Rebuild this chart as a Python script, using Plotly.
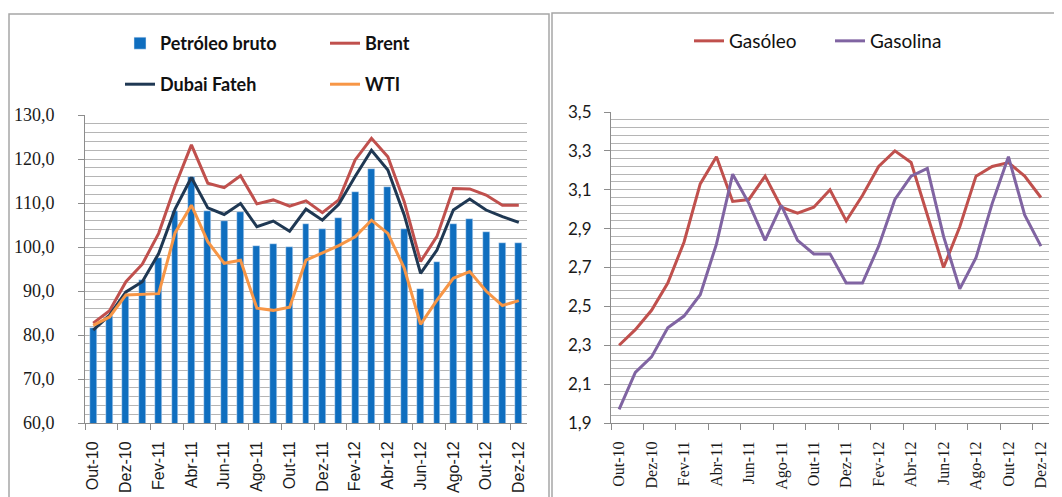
import plotly.graph_objects as go

months = ["Out-10", "Nov-10", "Dez-10", "Jan-11", "Fev-11", "Mar-11", "Abr-11", "Mai-11",
          "Jun-11", "Jul-11", "Ago-11", "Set-11", "Out-11", "Nov-11", "Dez-11", "Jan-12",
          "Fev-12", "Mar-12", "Abr-12", "Mai-12", "Jun-12", "Jul-12", "Ago-12", "Set-12",
          "Out-12", "Nov-12", "Dez-12"]

petroleo_bruto = [81.7, 84.3, 88.8, 92.5, 97.6, 108.2, 116.0, 108.2, 105.8, 107.9, 100.3, 100.6,
                  99.9, 105.2, 104.0, 106.7, 112.6, 117.7, 113.7, 104.0, 90.5, 96.7, 105.2,
                  106.3, 103.3, 100.8, 100.8]
brent = [82.7, 85.5, 92.1, 96.1, 103.1, 113.8, 123.2, 114.5, 113.5, 116.2, 109.8, 110.7, 109.3,
         110.5, 107.8, 110.7, 119.8, 124.7, 120.5, 110.3, 96.7, 102.4, 113.3, 113.2, 111.8,
         109.5, 109.5]
dubai_fateh = [81.1, 84.5, 89.8, 92.1, 98.5, 108.6, 115.8, 108.9, 107.4, 109.9, 104.6, 105.9,
               103.6, 108.6, 106.1, 109.7, 116.0, 122.0, 117.5, 107.3, 94.0, 99.3, 108.4, 110.9,
               108.4, 106.9, 105.6]
wti = [82.2, 84.1, 89.1, 89.3, 89.4, 103.2, 109.5, 101.2, 96.3, 97.0, 86.1, 85.6, 86.3, 97.0,
       98.6, 100.3, 102.3, 106.1, 103.1, 95.2, 82.4, 87.9, 92.9, 94.4, 90.0, 86.7, 87.8]

gasoleo = [2.30, 2.38, 2.48, 2.62, 2.83, 3.13, 3.27, 3.04, 3.05, 3.17, 3.01, 2.98, 3.01, 3.10,
           2.94, 3.07, 3.22, 3.30, 3.24, 2.97, 2.70, 2.91, 3.17, 3.22, 3.24, 3.17, 3.06]
gasolina = [1.97, 2.16, 2.24, 2.39, 2.45, 2.56, 2.82, 3.18, 3.03, 2.84, 3.02, 2.84, 2.77, 2.77,
            2.62, 2.62, 2.81, 3.05, 3.17, 3.21, 2.86, 2.59, 2.75, 3.03, 3.27, 2.97, 2.81]

x = list(range(len(months)))
label_vals = x[::2]
label_text = months[::2]
boundary_ticks = [v - 0.5 for v in label_vals]

# page offset (default body margin) compensation
OFF = 8
W, H = 1062 - OFF, 497 - OFF
def px(v):
    return (v - OFF) / W
def py(v):
    return 1 - (v - OFF) / H

C_BAR = "#0F6EBF"
C_BRENT = "#C0504D"
C_DUBAI = "#1F3853"
C_WTI = "#F79646"
C_GASOLINA = "#8064A2"
GRID = "#B5B5B5"
AXIS = "#8C8C8C"

fig = go.Figure()
fig.add_trace(go.Bar(x=x, y=petroleo_bruto, name="Petróleo bruto", marker_color=C_BAR,
                     width=0.42, xaxis="x", yaxis="y", legend="legend"))
fig.add_trace(go.Scatter(x=x, y=brent, name="Brent", mode="lines",
                         line=dict(color=C_BRENT, width=3), xaxis="x", yaxis="y", legend="legend"))
fig.add_trace(go.Scatter(x=x, y=dubai_fateh, name="Dubai Fateh", mode="lines",
                         line=dict(color=C_DUBAI, width=3), xaxis="x", yaxis="y", legend="legend2"))
fig.add_trace(go.Scatter(x=x, y=wti, name="WTI", mode="lines",
                         line=dict(color=C_WTI, width=3), xaxis="x", yaxis="y", legend="legend2"))
fig.add_trace(go.Scatter(x=x, y=gasoleo, name="Gasóleo", mode="lines",
                         line=dict(color=C_BRENT, width=3), xaxis="x2", yaxis="y2", legend="legend3"))
fig.add_trace(go.Scatter(x=x, y=gasolina, name="Gasolina", mode="lines",
                         line=dict(color=C_GASOLINA, width=3), xaxis="x2", yaxis="y2", legend="legend3"))

xcommon = dict(range=[-0.5, len(months) - 0.5], tickmode="array", tickvals=label_vals,
               ticktext=label_text, tickangle=-90, ticks="", showgrid=False, zeroline=False,
               showline=True, linecolor=AXIS, linewidth=1, automargin=False,
               ticklabelstandoff=11,
               minor=dict(tickmode="array", tickvals=boundary_ticks, ticks="outside",
                          ticklen=6, tickcolor=AXIS, showgrid=False))

fig.update_layout(
    width=W, height=H, margin=dict(l=0, r=0, t=0, b=0, autoexpand=False),
    paper_bgcolor="white", plot_bgcolor="white",
    separators=", ",
    bargap=0,
    xaxis=dict(domain=[px(85), px(527)], anchor="y",
               tickfont=dict(family="Liberation Sans", size=16, color="#1a1a1a"), **xcommon),
    yaxis=dict(domain=[py(423), py(115)], anchor="x", range=[60, 130], dtick=10,
               tickformat=".1f", showgrid=True, gridcolor=GRID, gridwidth=1,
               showline=True, linecolor=AXIS, ticks="outside", ticklen=6, tickcolor=AXIS,
               zeroline=False, ticklabelstandoff=20, automargin=False,
               tickfont=dict(family="Liberation Serif", size=18, color="#1a1a1a"),
               minor=dict(dtick=2, showgrid=True, gridcolor=GRID, gridwidth=1)),
    xaxis2=dict(domain=[px(611), px(1049)], anchor="y2",
                tickfont=dict(family="Liberation Serif", size=16, color="#1a1a1a"), **xcommon),
    yaxis2=dict(domain=[py(423), py(112)], anchor="x2", range=[1.9, 3.5], tick0=1.9, dtick=0.2,
                tickformat=".1f", showgrid=True, gridcolor=GRID, gridwidth=1,
                showline=True, linecolor=AXIS, ticks="outside", ticklen=6, tickcolor=AXIS,
                zeroline=False, ticklabelstandoff=9, automargin=False,
                tickfont=dict(family="Lato", size=17, color="#1a1a1a"),
                minor=dict(tick0=1.9, dtick=0.04, showgrid=True, gridcolor=GRID, gridwidth=1)),
    legend=dict(orientation="h", x=px(120), y=py(25), xanchor="left", yanchor="top",
                entrywidth=160, entrywidthmode="pixels", bgcolor="rgba(0,0,0,0)",
                font=dict(family="Lato", size=18, color="#111111", weight="bold"),
                traceorder="normal"),
    legend2=dict(orientation="h", x=px(120), y=py(66), xanchor="left", yanchor="top",
                 entrywidth=160, entrywidthmode="pixels", bgcolor="rgba(0,0,0,0)",
                 font=dict(family="Lato", size=18, color="#111111", weight="bold"),
                 traceorder="normal"),
    legend3=dict(orientation="h", x=px(689), y=py(22), xanchor="left", yanchor="top",
                 entrywidth=96, entrywidthmode="pixels", bgcolor="rgba(0,0,0,0)",
                 font=dict(family="Lato", size=19, color="#111111"),
                 traceorder="normal"),
    shapes=[
        dict(type="rect", xref="paper", yref="paper", x0=px(9), x1=px(549), y0=py(520), y1=py(14),
             line=dict(color="#A6A6A6", width=1.5)),
        dict(type="rect", xref="paper", yref="paper", x0=px(552), x1=px(1080), y0=py(520), y1=py(13),
             line=dict(color="#A6A6A6", width=1.5)),
    ],
)

fig.write_html("out.html")
